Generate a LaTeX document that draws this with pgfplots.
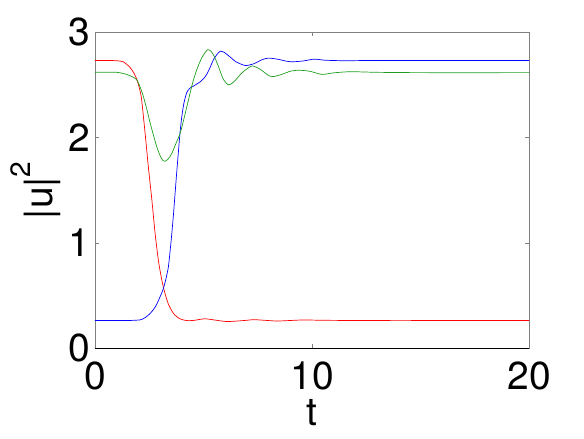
\documentclass[border=0pt]{standalone}
\usepackage{fontspec}
\setmainfont{TeX Gyre Heros}
\usepackage{pgfplots}
\pgfplotsset{compat=1.18}
\definecolor{mred}{HTML}{FF0000}
\definecolor{mblue}{HTML}{0000FF}
\definecolor{mgreen}{HTML}{1E9E1E}
\definecolor{frame}{HTML}{808080}

\begin{document}
\begin{tikzpicture}
\begin{axis}[
  scale only axis,
  width=434pt,
  height=316pt,
  xmin=0, xmax=20,
  ymin=0, ymax=3,
  xtick={0,10,20},
  ytick={0,1,2,3},
  tick align=inside,
  major tick length=4pt,
  tick style={frame, line width=0.6pt},
  axis line style={frame, line width=0.9pt},
  /pgf/number format/assume math mode=true,
  ticklabel style={font=\fontsize{39}{39}\selectfont, inner sep=0pt},
  yticklabel style={anchor=east, xshift=-5pt},
  xticklabel style={anchor=north, yshift=-13.5pt},
  xlabel={t},
  ylabel={|u|\raisebox{22pt}{\fontsize{28}{28}\selectfont 2}},
  label style={font=\fontsize{39}{39}\selectfont, inner sep=0pt},
  xlabel style={at={(axis description cs:0.5,0)}, anchor=north, yshift=-50.5pt},
  ylabel style={at={(axis description cs:0,0.5)}, anchor=south, yshift=34pt},
  every axis plot/.append style={line width=0.7pt, smooth, tension=0.4},
]
% red
\addplot[mred] coordinates {
(0,2.733) (0.5,2.733) (1.0,2.73) (1.3,2.72) (1.6,2.67) (1.8,2.61) (1.95,2.54)
(2.08,2.44) (2.15,2.36) (2.31,2.04) (2.46,1.72) (2.62,1.41) (2.77,1.09)
(2.92,0.835) (3.05,0.68) (3.15,0.58) (3.27,0.49) (3.38,0.42) (3.5,0.37)
(3.62,0.33) (3.77,0.30) (3.92,0.28) (4.1,0.268) (4.31,0.262) (4.6,0.266)
(4.85,0.275) (5.08,0.28) (5.4,0.272) (5.8,0.26) (6.08,0.254) (6.5,0.258)
(7.0,0.266) (7.31,0.272) (7.8,0.266) (8.38,0.259) (9.0,0.264) (9.6,0.269)
(10.5,0.266) (12,0.264) (14,0.265) (17,0.264) (20,0.264)
};
% blue
\addplot[mblue] coordinates {
(0,0.264) (1.5,0.264) (2.08,0.27) (2.3,0.29) (2.54,0.33) (2.7,0.37) (2.85,0.42)
(3.0,0.49) (3.15,0.566) (3.27,0.66) (3.38,0.77) (3.46,0.92) (3.54,1.09)
(3.62,1.28) (3.69,1.47) (3.77,1.68) (3.85,1.88) (3.92,2.05) (4.0,2.2)
(4.1,2.33) (4.23,2.43) (4.38,2.47) (4.54,2.49) (4.7,2.51) (4.85,2.53)
(5.0,2.56) (5.15,2.60) (5.31,2.67) (5.46,2.74) (5.62,2.79) (5.77,2.82)
(5.95,2.81) (6.2,2.77) (6.5,2.72) (6.92,2.685) (7.3,2.70) (7.7,2.74)
(8.0,2.755) (8.4,2.745) (9.0,2.72) (9.6,2.728) (10.1,2.745) (10.6,2.735)
(11.5,2.73) (13,2.733) (16,2.732) (20,2.732)
};
% green
\addplot[mgreen] coordinates {
(0,2.62) (1.0,2.62) (1.46,2.60) (1.7,2.58) (1.92,2.55) (2.08,2.48) (2.23,2.39)
(2.4,2.26) (2.54,2.14) (2.7,2.02) (2.85,1.91) (3.0,1.83) (3.1,1.79)
(3.23,1.775) (3.38,1.80) (3.54,1.85) (3.7,1.93) (3.92,2.04) (4.1,2.18)
(4.31,2.36) (4.5,2.52) (4.69,2.645) (4.9,2.75) (5.08,2.81) (5.2,2.835)
(5.35,2.82) (5.5,2.77) (5.7,2.67) (5.9,2.56) (6.15,2.50) (6.4,2.53)
(6.8,2.62) (7.23,2.68) (7.6,2.65) (8.0,2.59) (8.23,2.58) (8.6,2.60)
(9.0,2.63) (9.38,2.64) (9.9,2.63) (10.46,2.60) (11.0,2.615) (11.77,2.626)
(13,2.62) (15,2.617) (20,2.617)
};
\draw[black, line width=0.9pt] (rel axis cs:0,0) -- (rel axis cs:1,0);
\end{axis}
\path (current axis.south west) ++(-95pt,-90.7pt) rectangle ++(584pt,439pt);
\end{tikzpicture}
\end{document}
